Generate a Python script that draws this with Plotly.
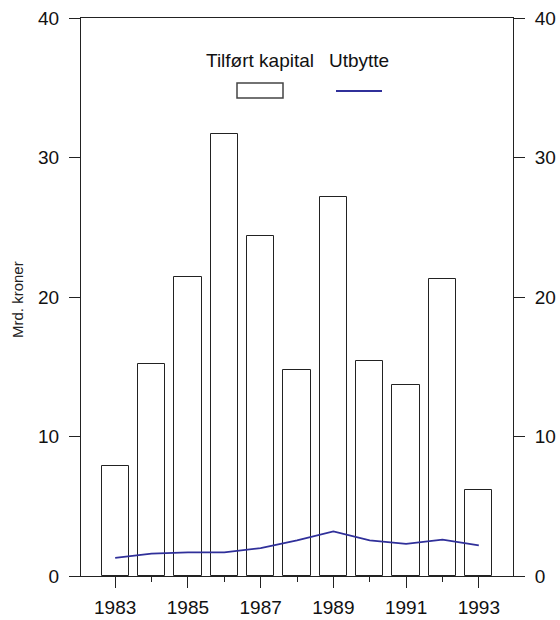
import plotly.graph_objects as go

years = [1983, 1984, 1985, 1986, 1987, 1988, 1989, 1990, 1991, 1992, 1993]
tilfort_kapital = [7.9, 15.2, 21.4, 31.7, 24.4, 14.8, 27.2, 15.4, 13.7, 21.3, 6.2]
utbytte = [1.3, 1.6, 1.7, 1.7, 2.0, 2.55, 3.2, 2.55, 2.3, 2.6, 2.2]
y_ticks = [0, 10, 20, 30, 40]
x_ticks = [1983, 1985, 1987, 1989, 1991, 1993]

W, H = 560, 620
L, R, T, B = 81, 513, 18, 576  # plot area in px

def px(x):
    return (x - L) / (R - L)

def py(y):
    return (B - y) / (B - T)

FONT = "Liberation Sans, Arial, sans-serif"
LINE_COLOR = "#30309a"

fig = go.Figure()
fig.add_trace(go.Bar(x=years, y=tilfort_kapital, width=0.75,
                     marker=dict(color="white", line=dict(color="#222222", width=1)),
                     showlegend=False))
fig.add_trace(go.Scatter(x=years, y=utbytte, mode="lines",
                         line=dict(color=LINE_COLOR, width=1.8), showlegend=False))
# invisible trace to activate right axis
fig.add_trace(go.Scatter(x=[years[0]], y=[0], yaxis="y2", mode="markers",
                         marker=dict(opacity=0), showlegend=False, hoverinfo="skip"))

axis_font = dict(family=FONT, size=19, color="#111111")

fig.update_layout(
    width=W, height=H,
    margin=dict(l=L, r=W - R, t=T, b=H - B),
    paper_bgcolor="white", plot_bgcolor="white",
    font=dict(family=FONT, color="#111111"),
    xaxis=dict(range=[1982.06, 1993.94], tickvals=x_ticks, ticktext=[str(v) for v in x_ticks],
               ticks="outside", ticklen=11, tickwidth=1, tickcolor="#222222",
               minor=dict(tickvals=years, ticks="outside", ticklen=5, tickwidth=1, tickcolor="#222222"),
               showline=True, linecolor="#222222", linewidth=1, mirror=True,
               showgrid=False, zeroline=False, tickfont=axis_font, automargin=False,
               ticklabelstandoff=3),
    yaxis=dict(range=[0, 40], tickvals=y_ticks, ticks="outside", ticklen=11, tickwidth=1,
               tickcolor="#222222", showline=True, linecolor="#222222", linewidth=1,
               mirror=True, showgrid=False, zeroline=False, tickfont=axis_font,
               ticklabelstandoff=6, automargin=False),
    yaxis2=dict(range=[0, 40], tickvals=y_ticks, ticks="outside", ticklen=11, tickwidth=1,
                tickcolor="#222222", showline=True, linecolor="#222222", linewidth=1,
                overlaying="y", side="right", showgrid=False, zeroline=False,
                tickfont=axis_font, ticklabelstandoff=6, automargin=False),
    bargap=0,
)

fig.add_annotation(text="Mrd. kroner", x=px(17), y=py(300), xref="paper", yref="paper",
                   textangle=-90, showarrow=False, font=dict(family=FONT, size=15, color="#222222"),
                   xanchor="center", yanchor="middle")
fig.add_annotation(text="Tilført kapital", x=px(260), y=py(60), xref="paper", yref="paper",
                   showarrow=False, font=dict(family=FONT, size=19, color="#111111"),
                   xanchor="center", yanchor="middle")
fig.add_annotation(text="Utbytte", x=px(359), y=py(60), xref="paper", yref="paper",
                   showarrow=False, font=dict(family=FONT, size=19, color="#111111"),
                   xanchor="center", yanchor="middle")
fig.add_shape(type="rect", xref="paper", yref="paper", x0=px(237), x1=px(283), y0=py(98), y1=py(83),
              line=dict(color="#444444", width=1.5), fillcolor="white")
fig.add_shape(type="line", xref="paper", yref="paper", x0=px(336), x1=px(382), y0=py(91), y1=py(91),
              line=dict(color=LINE_COLOR, width=2))

fig.write_html("out.html")
